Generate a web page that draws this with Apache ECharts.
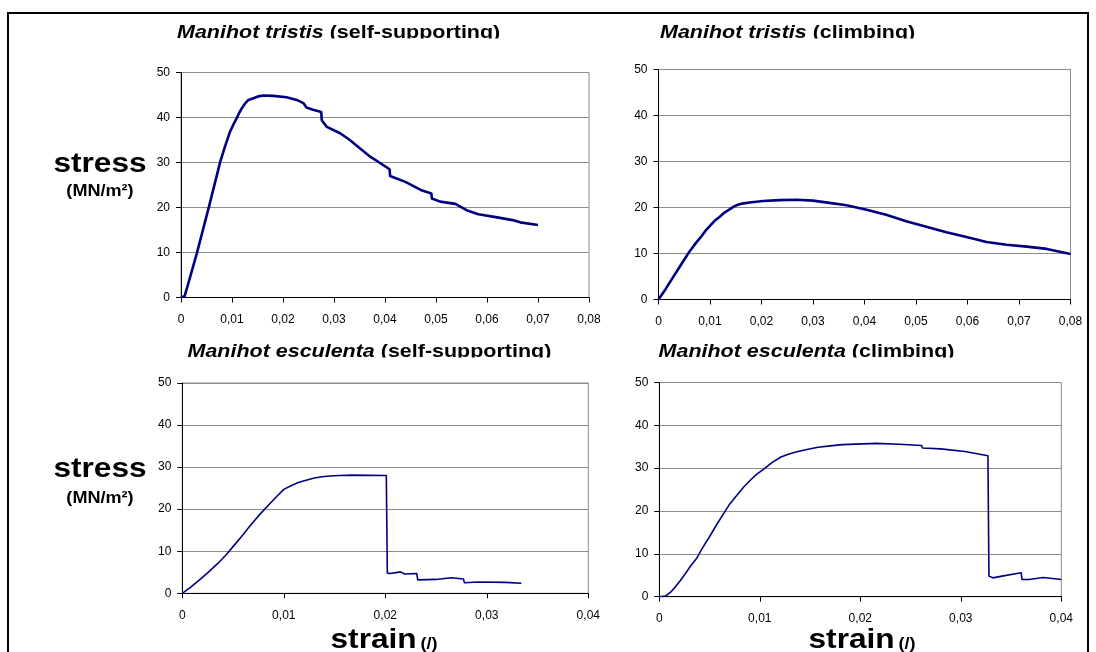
<!DOCTYPE html>
<html>
<head>
<meta charset="utf-8">
<script src="https://cdn.jsdelivr.net/npm/echarts@6.0.0/dist/echarts.min.js"></script>
<style>
html, body { margin: 0; padding: 0; background: #fff; }
#main { width: 1096px; height: 652px; }
</style>
</head>
<body>
<div id="main"></div>
<script>
// Manihot tristis, self-supporting
var tristisSelfStrain = [0, 0.0007, 0.0012, 0.0031, 0.0054, 0.0077, 0.0087, 0.0096, 0.0103, 0.0109, 0.0114, 0.0119, 0.0125, 0.0132, 0.0142, 0.0152, 0.0161, 0.0181, 0.0207, 0.0227, 0.0240, 0.0246, 0.0259, 0.0275, 0.0276, 0.0286, 0.0312, 0.0331, 0.0350, 0.0371, 0.0409, 0.0410, 0.0440, 0.0470, 0.0491, 0.0492, 0.0508, 0.0538, 0.0560, 0.0583, 0.0620, 0.0650, 0.0665, 0.0700];
var tristisSelfStress = [0, 0.3, 2.2, 9.8, 19.8, 30.2, 33.8, 36.8, 38.5, 39.8, 41.0, 42.0, 43.0, 43.9, 44.3, 44.7, 44.9, 44.8, 44.5, 43.9, 43.2, 42.2, 41.7, 41.2, 39.4, 37.9, 36.5, 35.0, 33.2, 31.3, 28.5, 27.0, 25.7, 23.9, 23.1, 22.0, 21.3, 20.8, 19.4, 18.5, 17.8, 17.2, 16.7, 16.1];
// Manihot tristis, climbing
var tristisClimbStrain = [0, 0.0014, 0.0028, 0.0044, 0.0060, 0.0072, 0.0083, 0.0091, 0.0099, 0.0109, 0.0119, 0.0128, 0.0138, 0.0146, 0.0154, 0.0165, 0.0177, 0.0203, 0.0235, 0.0268, 0.0300, 0.0332, 0.0365, 0.0404, 0.0442, 0.0481, 0.0520, 0.0559, 0.0598, 0.0637, 0.0676, 0.0715, 0.0754, 0.0800];
var tristisClimbStress = [0, 2.3, 4.8, 7.6, 10.4, 12.2, 13.7, 14.9, 15.9, 17.1, 18.0, 18.9, 19.6, 20.2, 20.6, 20.9, 21.1, 21.4, 21.6, 21.7, 21.5, 21.0, 20.5, 19.5, 18.4, 17.0, 15.8, 14.6, 13.6, 12.5, 11.9, 11.5, 11.0, 9.9];
// Manihot esculenta, self-supporting
var esculentaSelfStrain = [0, 0.0008, 0.0017, 0.0026, 0.0035, 0.0043, 0.0050, 0.0058, 0.0066, 0.0075, 0.0085, 0.0093, 0.0100, 0.0108, 0.0115, 0.0122, 0.0130, 0.0138, 0.0145, 0.0155, 0.0167, 0.0201, 0.0202, 0.0205, 0.0215, 0.0219, 0.0231, 0.0232, 0.0250, 0.0265, 0.0277, 0.0278, 0.0292, 0.0318, 0.0334];
var esculentaSelfStress = [0, 1.4, 3.2, 5.1, 7.1, 9.1, 11.1, 13.4, 15.8, 18.4, 21.0, 23.0, 24.7, 25.7, 26.4, 26.9, 27.4, 27.7, 27.9, 28.0, 28.1, 28.0, 4.8, 4.7, 5.1, 4.6, 4.7, 3.2, 3.3, 3.7, 3.4, 2.5, 2.7, 2.6, 2.4];
// Manihot esculenta, climbing
var esculentaClimbStrain = [0, 0.0006, 0.0011, 0.0016, 0.0021, 0.0026, 0.0031, 0.0037, 0.0043, 0.0050, 0.0057, 0.0064, 0.0070, 0.0077, 0.0084, 0.0091, 0.0097, 0.0104, 0.0112, 0.0121, 0.0129, 0.0138, 0.0148, 0.0158, 0.0170, 0.0182, 0.0216, 0.0239, 0.0261, 0.0262, 0.0280, 0.0304, 0.0327, 0.0328, 0.0332, 0.0341, 0.0360, 0.0361, 0.0368, 0.0382, 0.0400];
var esculentaClimbStress = [0, 0.15, 1.0, 2.3, 3.8, 5.4, 7.1, 8.9, 11.4, 14.0, 16.8, 19.4, 21.6, 23.6, 25.6, 27.3, 28.6, 29.8, 31.3, 32.6, 33.3, 33.9, 34.4, 34.9, 35.2, 35.5, 35.8, 35.6, 35.3, 34.7, 34.5, 33.9, 32.9, 4.8, 4.4, 4.8, 5.6, 4.0, 4.0, 4.5, 4.0];

var stressMax = 50;
var stressStep = 10;
var strainMaxTop = 0.08;
var strainMaxBottom = 0.04;
var strainStep = 0.01;

var panelTitles = [
    ['Manihot tristis', ' (self-supporting)'],
    ['Manihot tristis', ' (climbing)'],
    ['Manihot esculenta', ' (self-supporting)'],
    ['Manihot esculenta', ' (climbing)']
];

function pairs(xs, ys) {
    var out = [];
    for (var i = 0; i < xs.length; i++) out.push([xs[i], ys[i]]);
    return out;
}

var FONT = '"Liberation Sans", Arial, sans-serif';
var STRETCH = 1.13;

var grids = [
    { left: 181, top: 72.5, width: 408, height: 225 },
    { left: 658.5, top: 69.5, width: 412, height: 230 },
    { left: 182.3, top: 383, width: 406, height: 210.3 },
    { left: 659.3, top: 382.5, width: 402, height: 214.2 }
];

function strainLabel(v) {
    if (Math.abs(v) < 1e-9) return '0';
    return v.toFixed(2).replace('.', ',');
}

var xAxes = [], yAxes = [];
grids.forEach(function (g, i) {
    g.show = true;
    g.borderColor = '#8c8c8c';
    g.borderWidth = 1;
    g.backgroundColor = '#fff';
    g.z = 0;
    xAxes.push({
        type: 'value', gridIndex: i, min: 0,
        max: i < 2 ? strainMaxTop : strainMaxBottom, interval: strainStep,
        z: 3,
        axisLine: { show: true, onZero: false, lineStyle: { color: '#000', width: 1 } },
        axisTick: { show: true, inside: false, length: 5, lineStyle: { color: '#000' } },
        axisLabel: { margin: 16, color: '#000', fontSize: 12, fontFamily: FONT, formatter: strainLabel },
        splitLine: { show: false }
    });
    yAxes.push({
        type: 'value', gridIndex: i, min: 0, max: stressMax, interval: stressStep,
        z: 3,
        axisLine: { show: true, onZero: false, lineStyle: { color: '#000', width: 1 } },
        axisTick: { show: true, inside: false, length: 5, lineStyle: { color: '#000' } },
        axisLabel: { margin: 11, color: '#000', fontSize: 12, fontFamily: FONT },
        splitLine: { show: true, lineStyle: { color: '#8c8c8c', width: 1 } }
    });
});

var seriesData = [
    pairs(tristisSelfStrain, tristisSelfStress),
    pairs(tristisClimbStrain, tristisClimbStress),
    pairs(esculentaSelfStrain, esculentaSelfStress),
    pairs(esculentaClimbStrain, esculentaClimbStress)
];

var series = seriesData.map(function (d, i) {
    return {
        type: 'line', xAxisIndex: i, yAxisIndex: i, data: d,
        showSymbol: false, symbol: 'none', z: 4,
        lineStyle: { color: '#000080', width: i < 2 ? 2.6 : 1.6, join: 'round' },
        itemStyle: { color: '#000080' }
    };
});

// titles (clipped at the bottom like the original)
var titlePos = [[177, 32.8], [660, 32.8], [187.5, 351.8], [658.6, 351.8]];
var graphics = [];
panelTitles.forEach(function (t, i) {
    graphics.push({
        type: 'text', x: titlePos[i][0], y: titlePos[i][1], scaleX: STRETCH, z: 50, silent: true,
        style: {
            text: '{i|' + t[0] + '}{n|' + t[1] + '}',
            fill: '#000', align: 'left', verticalAlign: 'middle',
            rich: {
                i: { fontStyle: 'italic', fontWeight: 'bold', fontSize: 19, fontFamily: FONT, fill: '#000' },
                n: { fontWeight: 'bold', fontSize: 19, fontFamily: FONT, fill: '#000' }
            }
        }
    });
});
graphics.push({ type: 'rect', z: 60, silent: true, shape: { x: 160, y: 38.5, width: 420, height: 12 }, style: { fill: '#fff' } });
graphics.push({ type: 'rect', z: 60, silent: true, shape: { x: 640, y: 38.5, width: 380, height: 12 }, style: { fill: '#fff' } });
graphics.push({ type: 'rect', z: 60, silent: true, shape: { x: 160, y: 357.5, width: 420, height: 12 }, style: { fill: '#fff' } });
graphics.push({ type: 'rect', z: 60, silent: true, shape: { x: 640, y: 357.5, width: 380, height: 12 }, style: { fill: '#fff' } });

// stress labels
[[164, 192], [469, 499]].forEach(function (p) {
    graphics.push({
        type: 'text', x: 100, y: p[0], scaleX: STRETCH, z: 50, silent: true,
        style: { text: 'stress', font: 'bold 28px ' + FONT, fill: '#000', align: 'center', verticalAlign: 'middle' }
    });
    graphics.push({
        type: 'text', x: 100, y: p[1], scaleX: STRETCH, z: 50, silent: true,
        style: { text: '(MN/m²)', font: 'bold 16px ' + FONT, fill: '#000', align: 'center', verticalAlign: 'middle' }
    });
});

// strain labels
[384, 862].forEach(function (cx) {
    graphics.push({
        type: 'text', x: cx, y: 640, scaleX: STRETCH, z: 50, silent: true,
        style: {
            text: '{a|strain} {b|(/)}', fill: '#000', align: 'center', verticalAlign: 'middle',
            rich: {
                a: { fontWeight: 'bold', fontSize: 28, fontFamily: FONT, fill: '#000', verticalAlign: 'bottom' },
                b: { fontWeight: 'bold', fontSize: 16, fontFamily: FONT, fill: '#000', verticalAlign: 'bottom', padding: [0, 0, 1, 0] }
            }
        }
    });
});

// outer frame
graphics.push({ type: 'rect', z: 70, silent: true, shape: { x: 8, y: 13, width: 1080, height: 700 }, style: { fill: 'none', stroke: '#000', lineWidth: 2 } });

var chart = echarts.init(document.getElementById('main'));
chart.setOption({
    animation: false,
    backgroundColor: '#fff',
    grid: grids,
    xAxis: xAxes,
    yAxis: yAxes,
    series: series,
    graphic: { elements: graphics }
});
</script>
</body>
</html>
